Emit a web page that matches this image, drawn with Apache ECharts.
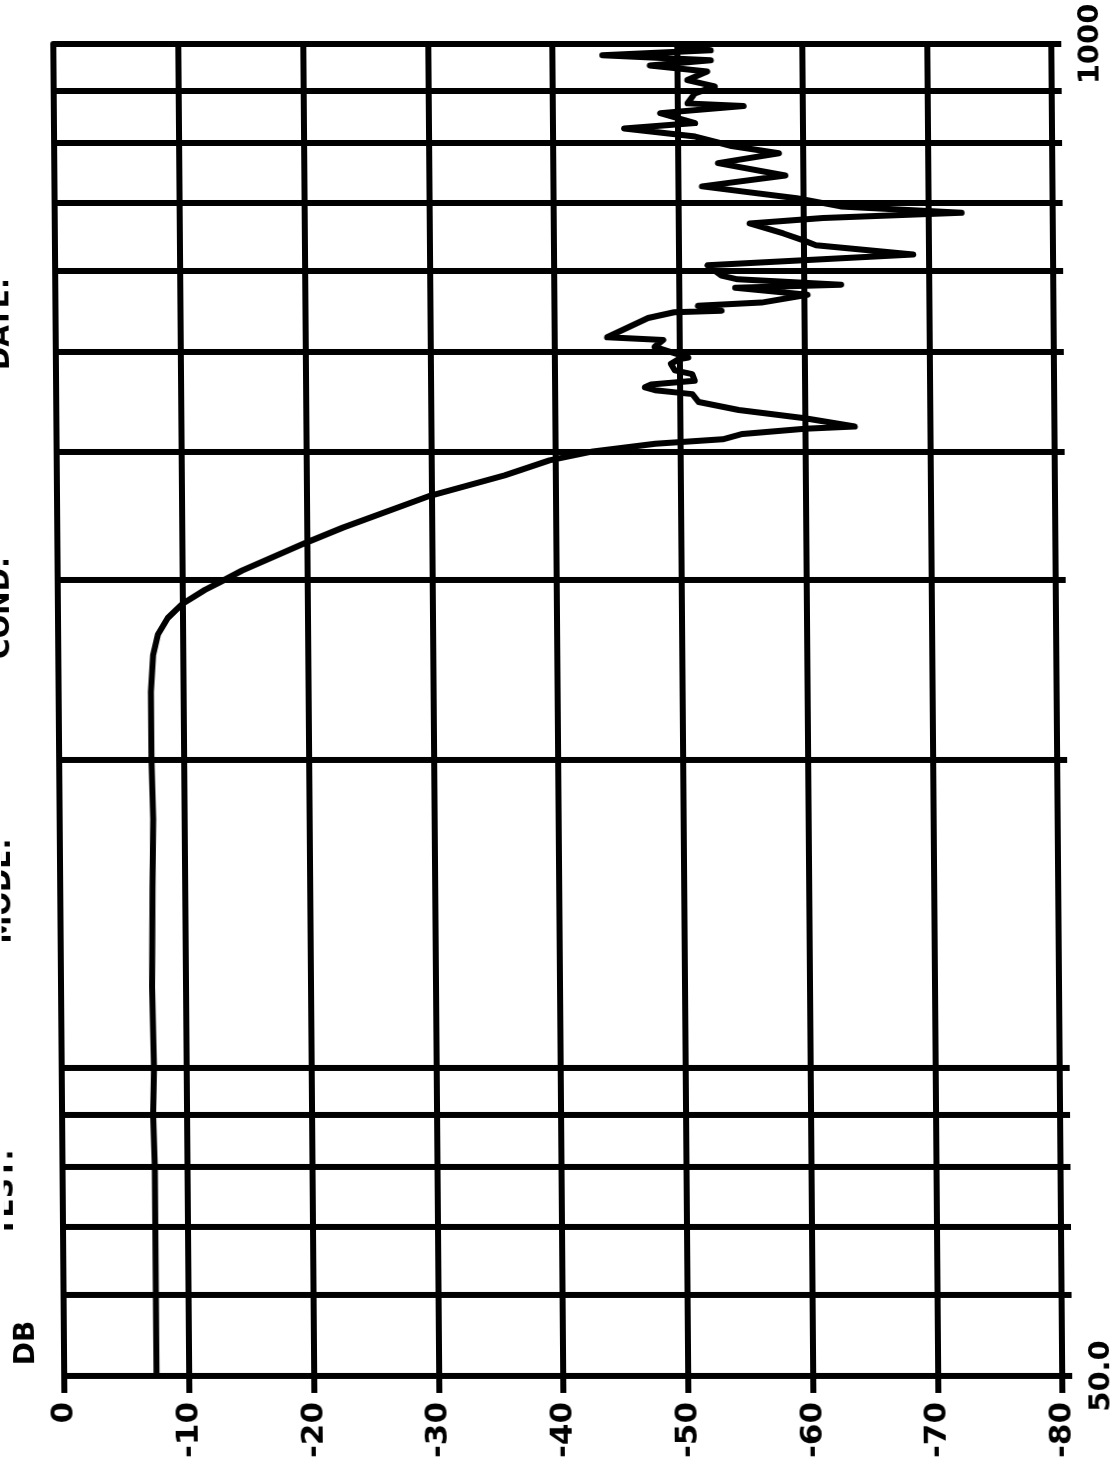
<!DOCTYPE html>
<html>
<head>
<meta charset="utf-8">
<script src="https://cdn.jsdelivr.net/npm/echarts@6/dist/echarts.min.js"></script>
<style>
  html, body { margin: 0; padding: 0; background: #fff; overflow: hidden; }
  #chart { width: 1112px; height: 1479px; transform: skewX(0.47deg); transform-origin: 50% 50%; }
</style>
</head>
<body>
<div id="chart"></div>
<script>
// ---- data ----
const freqHz = [50, 60, 70, 80, 90, 100, 120, 150, 175, 200,
  233, 253, 265, 275, 284, 293, 298, 306, 326, 337,
  362, 379, 392, 400, 407, 411, 416, 421, 423, 431,
  439, 447, 455, 459, 462, 465, 469, 476, 480, 487,
  492, 494, 506, 514, 517, 540, 547, 549, 555, 559,
  569, 578, 582, 589, 594, 608, 623, 636, 643, 653,
  668, 676, 684, 694, 707, 726, 744, 765, 782, 795,
  812, 827, 837, 856, 870, 875, 895, 909, 922, 940,
  953, 964, 975, 986, 995, 1000];
const levelDb = [-7.4, -7.4, -7.4, -7.4, -7.3, -7.4, -7.3, -7.4, -7.5, -7.4,
  -7.4, -7.6, -8.0, -8.8, -10, -11.8, -13.0, -14.8, -20, -22.9,
  -29.9, -35.9, -39.5, -43, -48, -53.4, -55, -60, -64, -60,
  -54.7, -51.5, -51, -48, -47.2, -47.7, -51.2, -51, -49.6, -49.3,
  -49.9, -50.7, -48, -48.7, -44.2, -47.5, -49.6, -53.4, -51.5, -56.6,
  -60.3, -54.5, -63, -54.7, -53.4, -52.3, -68.8, -61, -60, -58.4,
  -55.7, -61.6, -72.7, -63, -59.5, -51.9, -58.6, -53.2, -58.1, -54.3,
  -51.4, -45.7, -51.4, -48.6, -55.3, -50.8, -51.4, -53, -50.8, -52.4,
  -47.8, -52.7, -44, -52.7, -50, -50];
const gridFreqs = [50, 60, 70, 80, 90, 100, 200, 300, 400, 500, 600, 700, 800, 900, 1000];
const freqLabels = [50, 1000];
const freqMin = 50, freqMax = 1000;
const dbMin = -80, dbMax = 0, dbStep = 10;
const headerTexts = ['DATE:', 'COND:', 'MODE:', 'TEST:', 'DB'];

// ---- chart ----
const FONT = 'DejaVu Sans';
const chart = echarts.init(document.getElementById('chart'), null, { renderer: 'canvas' });
const pairs = freqHz.map((f, i) => [levelDb[i], f]);
const hdrFont = 'bold 28px "DejaVu Sans"';
function hdr(text, x, y) {
  return { type: 'text', x: x, y: y, rotation: Math.PI / 2,
    style: { text: text, fill: '#000', font: hdrFont, align: 'center', verticalAlign: 'middle' } };
}

const option = {
  backgroundColor: '#ffffff',
  animation: false,
  grid: { left: 59, right: 55, top: 44, bottom: 103, containLabel: false },
  xAxis: {
    type: 'value', min: dbMin, max: dbMax, interval: dbStep, inverse: true,
    position: 'bottom',
    axisLine: { show: true, lineStyle: { color: '#000', width: 6 } },
    axisTick: { show: true, length: 17, lineStyle: { color: '#000', width: 6 } },
    splitLine: { show: true, lineStyle: { color: '#000', width: 6 } },
    axisLabel: { rotate: 90, margin: 26, color: '#000', fontFamily: FONT, fontWeight: 'bold', fontSize: 31 }
  },
  yAxis: [
    {
      type: 'log', logBase: 10, min: freqMin, max: freqMax, position: 'right',
      axisLine: { show: true, lineStyle: { color: '#000', width: 6 } },
      axisTick: { show: false },
      splitLine: { show: false },
      axisLabel: {
        show: true, rotate: 90, margin: 25, color: '#000', fontFamily: FONT, fontWeight: 'bold', fontSize: 29,
        showMinLabel: true, showMaxLabel: true,
        formatter: function (v) {
          for (const f of freqLabels) {
            if (Math.abs(v - f) < 0.5) return f === 50 ? '50.0' : String(f);
          }
          return '';
        }
      }
    },
    {
      // helper axis (decades) only to draw the short tick stubs right of the frame
      type: 'value', min: Math.log10(freqMin), max: Math.log10(freqMax), position: 'right',
      axisLine: { show: false },
      splitLine: { show: false },
      axisLabel: { show: false },
      axisTick: { show: true, customValues: gridFreqs.map(f => Math.log10(f)), length: 10,
        lineStyle: { color: '#000', width: 6 } }
    }
  ],
  graphic: [
    hdr(headerTexts[0], 5, 324),
    hdr(headerTexts[1], 3, 608),
    hdr(headerTexts[2], 2, 891),
    hdr(headerTexts[3], 1.5, 1193),
    hdr(headerTexts[4], 22, 1343)
  ],
  series: [
    {
      type: 'line',
      yAxisIndex: 0,
      data: pairs,
      showSymbol: false,
      smooth: false,
      clip: true,
      lineStyle: { color: '#000', width: 6, join: 'round', cap: 'round' },
      z: 5,
      markLine: {
        silent: true,
        symbol: ['none', 'none'],
        label: { show: false },
        lineStyle: { color: '#000', width: 6, type: 'solid' },
        data: gridFreqs.map(f => ({ yAxis: f }))
      }
    }
  ]
};
chart.setOption(option);
</script>
</body>
</html>
